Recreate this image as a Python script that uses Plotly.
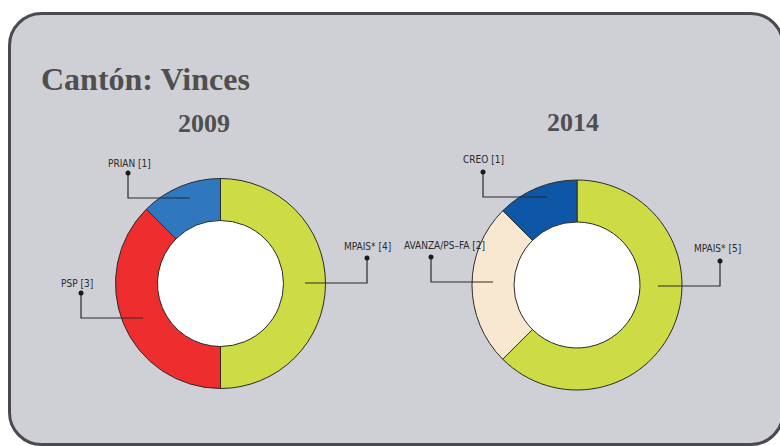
import plotly.graph_objects as go

# ---------------- data ----------------
title_text = "Cantón: Vinces"
years = ["2009", "2014"]

labels_2009 = ["MPAIS*", "PSP", "PRIAN"]
values_2009 = [4, 3, 1]
colors_2009 = ["#cddc45", "#ee2e2e", "#3078bd"]

labels_2014 = ["MPAIS*", "AVANZA/PS–FA", "CREO"]
values_2014 = [5, 2, 1]
colors_2014 = ["#cddc45", "#f8e8d2", "#0d57a6"]

# ---------------- layout helpers (pixel space of the page) ----------------
W, H = 780, 446
def px(x):
    return x / W
def py(y):
    return 1 - y / H

R = 105
HOLE = 0.6
pies = [
    dict(cx=220.5, cy=283.5, labels=labels_2009, values=values_2009, colors=colors_2009, year=years[0], ycx=204, ycy=123),
    dict(cx=577, cy=285, labels=labels_2014, values=values_2014, colors=colors_2014, year=years[1], ycx=573, ycy=122),
]

# leader-line layout: anchor inside slice, dot, label centre (pixels)
leaders = [
    [dict(anchor=(305, 283), dot=(367, 258), text=(367, 246)),
     dict(anchor=(143, 318), dot=(81, 293), text=(77, 283)),
     dict(anchor=(190, 198), dot=(128, 173), text=(129, 163))],
    [dict(anchor=(658, 286), dot=(720, 261), text=(717, 249)),
     dict(anchor=(493, 282), dot=(431, 257), text=(444, 245)),
     dict(anchor=(547, 197), dot=(483, 172), text=(483, 160))],
]

fig = go.Figure()
shapes = []
annotations = []

# rounded panel (right side runs slightly past the frame)
x0, x1, y0, y1, r = 9.5, 783, 13.5, 444.5, 32
k = 0.4477 * r
path = (
    f"M {px(x0 + r)},{py(y0)} L {px(x1 - r)},{py(y0)} "
    f"C {px(x1 - k)},{py(y0)} {px(x1)},{py(y0 + k)} {px(x1)},{py(y0 + r)} "
    f"L {px(x1)},{py(y1 - r)} "
    f"C {px(x1)},{py(y1 - k)} {px(x1 - k)},{py(y1)} {px(x1 - r)},{py(y1)} "
    f"L {px(x0 + r)},{py(y1)} "
    f"C {px(x0 + k)},{py(y1)} {px(x0)},{py(y1 - k)} {px(x0)},{py(y1 - r)} "
    f"L {px(x0)},{py(y0 + r)} "
    f"C {px(x0)},{py(y0 + k)} {px(x0 + k)},{py(y0)} {px(x0 + r)},{py(y0)} Z"
)
shapes.append(dict(type="path", path=path, xref="paper", yref="paper",
                   fillcolor="#cfd0d5", line=dict(color="#4a4a50", width=3), layer="below"))

label_font = dict(family="DejaVu Sans Condensed, Liberation Sans Narrow, Roboto Condensed, Liberation Sans, sans-serif",
                  size=10, color="#2a2a2a")

for i, p in enumerate(pies):
    cx, cy = p["cx"], p["cy"]
    fig.add_trace(go.Pie(
        labels=p["labels"], values=p["values"],
        marker=dict(colors=p["colors"], line=dict(color="#2b2b2b", width=1)),
        hole=HOLE, sort=False, direction="clockwise", rotation=0,
        textinfo="none", hoverinfo="label+value", showlegend=False,
        domain=dict(x=[px(cx - R), px(cx + R)], y=[py(cy + R), py(cy - R)]),
    ))
    # white centre
    rh = R * HOLE
    shapes.append(dict(type="circle", xref="paper", yref="paper",
                       x0=px(cx - rh), x1=px(cx + rh), y0=py(cy + rh), y1=py(cy - rh),
                       fillcolor="white", line=dict(width=0), layer="below"))
    annotations.append(dict(text=f"<b>{p['year']}</b>", x=px(p["ycx"]), y=py(p["ycy"]),
                            xref="paper", yref="paper", showarrow=False,
                            xanchor="center", yanchor="middle",
                            font=dict(family="Liberation Serif, Times New Roman, serif", size=26, color="#4f4f4f")))
    for lab, val, ld in zip(p["labels"], p["values"], leaders[i]):
        ax, ay = ld["anchor"]
        dx, dy = ld["dot"]
        shapes.append(dict(type="path", xref="paper", yref="paper",
                           path=f"M {px(ax)},{py(ay)} L {px(dx)},{py(ay)} L {px(dx)},{py(dy)}",
                           line=dict(color="#2b2b2b", width=1.2), layer="above"))
        shapes.append(dict(type="circle", xref="paper", yref="paper",
                           x0=px(dx - 2.5), x1=px(dx + 2.5), y0=py(dy + 2.5), y1=py(dy - 2.5),
                           fillcolor="#1a1a1a", line=dict(width=0), layer="above"))
        tx, ty = ld["text"]
        annotations.append(dict(text=f"{lab} [{val}]", x=px(tx), y=py(ty),
                                xref="paper", yref="paper", showarrow=False,
                                xanchor="center", yanchor="middle",
                                font=label_font))

annotations.append(dict(text=f"<b>{title_text}</b>", x=px(39), y=py(79),
                        xref="paper", yref="paper", showarrow=False,
                        xanchor="left", yanchor="middle",
                        font=dict(family="Liberation Serif, Times New Roman, serif", size=32, color="#4f4f4f")))

fig.update_layout(
    width=W, height=H,
    margin=dict(l=0, r=0, t=0, b=0),
    paper_bgcolor="white", plot_bgcolor="white",
    shapes=shapes, annotations=annotations,
    showlegend=False,
)

fig.write_html("out.html", config={"displayModeBar": False},
               post_script="document.body.style.margin='0';document.body.style.overflow='hidden';")
